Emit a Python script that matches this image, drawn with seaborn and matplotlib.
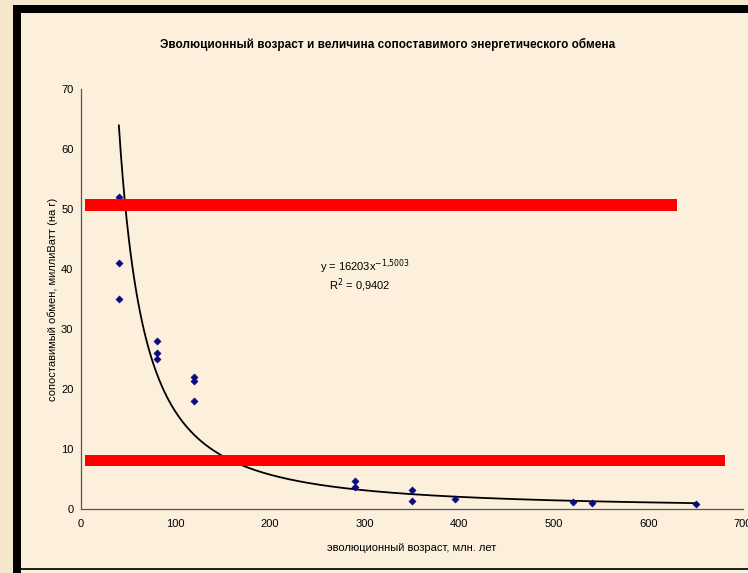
import numpy as np
import pandas as pd
import matplotlib
matplotlib.use("Agg")
import matplotlib.pyplot as plt
from matplotlib.patches import Rectangle
import seaborn as sns

# ---- data ----
age_myr = [40, 40, 40, 80, 80, 80, 120, 120, 120, 290, 290, 350, 350, 395, 520, 540, 650]
metab_mw = [52, 41, 35, 28, 26, 25, 22, 21.3, 18, 4.7, 3.7, 3.2, 1.4, 1.7, 1.1, 0.95, 0.8]

# power trend shown on the chart: y = a * x^b
trend_a = 16203
trend_b = -1.5003
trend_r2 = 0.9402

# red highlight bands (x start, x end, y low, y high) in data units
band_x = [(4, 630), (4, 681)]
band_y = [(49.7, 51.7), (7.1, 9.0)]

x_ticks = [0, 100, 200, 300, 400, 500, 600, 700]
y_ticks = [0, 10, 20, 30, 40, 50, 60, 70]

title = "Эволюционный возраст и величина сопоставимого энергетического обмена"
x_label = "эволюционный возраст, млн. лет"
y_label = "сопоставимый обмен, миллиВатт (на г)"

sns.set_theme(style="white")
plt.rcParams['font.family'] = ['Liberation Sans', 'DejaVu Sans']
plt.rcParams['text.color'] = 'black'
plt.rcParams['axes.labelcolor'] = 'black'

df = pd.DataFrame({"age": age_myr, "metab": metab_mw})

fig = plt.figure(figsize=(7.48, 5.73), dpi=100)
fig.patch.set_facecolor("#F5E7CC")

W, H = 748, 573
# inner cream panel and black frame
fig.patches.append(Rectangle((13 / W, 0), 1 - 13 / W, 1 - 5 / H, transform=fig.transFigure,
                             facecolor="#FCF0DD", edgecolor="none", zorder=-2))
fig.patches.append(Rectangle((13 / W, 0), 8 / W, 1 - 5 / H, transform=fig.transFigure,
                             facecolor="black", edgecolor="none", zorder=-1))
fig.patches.append(Rectangle((13 / W, 1 - 13 / H), 1 - 13 / W, 8 / H, transform=fig.transFigure,
                             facecolor="black", edgecolor="none", zorder=-1))
fig.patches.append(Rectangle((21 / W, 3 / H), 1 - 21 / W, 2 / H, transform=fig.transFigure,
                             facecolor="#222222", edgecolor="none", zorder=-1))

ax = fig.add_axes([81 / W, 1 - 509 / H, (743 - 81) / W, (509 - 89) / H])
ax.set_facecolor("none")

# trend line
xs = np.linspace(min(age_myr), max(age_myr), 300)
sns.lineplot(x=xs, y=trend_a * xs ** trend_b, ax=ax, color="black", linewidth=1.3, zorder=3)

# data points
sns.scatterplot(data=df, x="age", y="metab", ax=ax, marker="D", s=14,
                color="#0A0A80", edgecolor="#0A0A80", linewidth=0.3, zorder=4)

ax.set_xlim(0, 700)
ax.set_ylim(0, 70)
ax.set_xticks(x_ticks)
ax.set_yticks(y_ticks)
ax.tick_params(axis="both", direction="out", length=4, width=0.8, color="#666666",
               labelsize=8, labelcolor="black", pad=3)
ax.tick_params(axis="y", pad=1.5)
for s in ["top", "right"]:
    ax.spines[s].set_visible(False)
for s in ["left", "bottom"]:
    ax.spines[s].set_color("#555555")
    ax.spines[s].set_linewidth(0.9)

ax.set_xlabel(x_label, fontsize=8, labelpad=10)
ax.set_ylabel(y_label, fontsize=8)
ax.yaxis.set_label_coords(-0.035, 0.5)

# red bands
for (x0, x1), (y0, y1) in zip(band_x, band_y):
    ax.add_patch(Rectangle((x0, y0), x1 - x0, y1 - y0, facecolor="#FF0000",
                           edgecolor="none", zorder=5, clip_on=False))

# equation labels
ax.text(253, 40.4, "y = %dx$^{-1{,}5003}$" % trend_a, fontsize=8, ha="left", va="center")
ax.text(262, 37.3, "R$^{2}$ = %s" % str(trend_r2).replace(".", ","), fontsize=8,
        ha="left", va="center")

fig.text(388 / W, 1 - 44 / H, title, fontsize=8.5, fontweight="bold", ha="center", va="center")

fig.savefig("out.png", dpi=100, facecolor=fig.get_facecolor())
